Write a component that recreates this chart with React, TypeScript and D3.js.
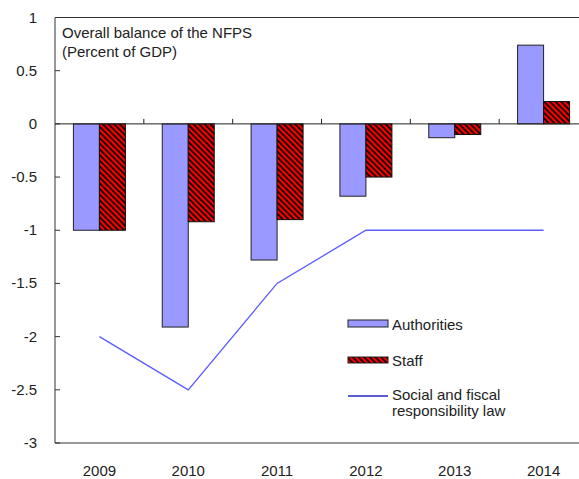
import React from "react";
import * as d3 from "d3";

const categories = ["2009", "2010", "2011", "2012", "2013", "2014"];
const authorities = [-1.0, -1.91, -1.28, -0.68, -0.13, 0.74];
const staff = [-1.0, -0.92, -0.9, -0.5, -0.1, 0.21];
const lawLine = [-2, -2.5, -1.5, -1, -1, -1];
const yTicks = [1, 0.5, 0, -0.5, -1, -1.5, -2, -2.5, -3];

export default function App() {
  const W = 579, H = 479;
  const left = 55, right = 588, top = 17.5, bottom = 443;
  const x = d3.scaleBand().domain(categories).range([left, right]).paddingInner(0).paddingOuter(0);
  const y = d3.scaleLinear().domain([-3, 1]).range([bottom, top]);
  const bw = 26;
  const font = "'Liberation Sans', Arial, sans-serif";
  const line = d3.line<number>()
    .x((_, i) => x(categories[i])! + x.bandwidth() / 2)
    .y((d) => y(d));
  return (
    <svg width={W} height={H} style={{ position: "absolute", left: 0, top: 0 }} fontFamily={font}>
      <defs>
        <pattern id="hatch" patternUnits="userSpaceOnUse" width="4" height="4" patternTransform="rotate(-45)">
          <rect width="4" height="4" fill="#ff0000" />
          <rect width="1.7" height="4" fill="#000" />
        </pattern>
      </defs>
      <rect width={W} height={H} fill="#fff" />
      {/* frame */}
      <line x1={left} x2={right} y1={top} y2={top} stroke="#333" strokeWidth={1} />
      <line x1={left} x2={left} y1={top} y2={bottom} stroke="#333" strokeWidth={1} />
      <line x1={left} x2={right} y1={bottom} y2={bottom} stroke="#333" strokeWidth={1} />
      {/* y ticks */}
      {yTicks.map((t) => (
        <g key={t}>
          <line x1={left} x2={left + 5} y1={y(t)} y2={y(t)} stroke="#333" />
          <text x={37} y={y(t) + 5} textAnchor="end" fontSize={15} fill="#222">{t}</text>
        </g>
      ))}
      {/* bars */}
      {categories.map((c, i) => {
        const cx = x(c)! + x.bandwidth() / 2;
        const a = authorities[i], s = staff[i];
        return (
          <g key={c}>
            <rect x={cx - bw} y={Math.min(y(a), y(0))} width={bw} height={Math.abs(y(a) - y(0))}
              fill="#9999ff" stroke="#222" strokeWidth={1} />
            <rect x={cx} y={Math.min(y(s), y(0))} width={bw} height={Math.abs(y(s) - y(0))}
              fill="url(#hatch)" stroke="#111" strokeWidth={1} />
          </g>
        );
      })}
      {/* zero line with category ticks */}
      <line x1={left} x2={right} y1={y(0)} y2={y(0)} stroke="#222" strokeWidth={1} />
      {categories.slice(1).map((c) => (
        <line key={c} x1={x(c)!} x2={x(c)!} y1={y(0)} y2={y(0) - 5} stroke="#222" />
      ))}
      {/* law line */}
      <path d={line(lawLine)!} fill="none" stroke="#5a5aff" strokeWidth={1.3} />
      {/* x labels */}
      {categories.map((c) => (
        <text key={c} x={x(c)! + x.bandwidth() / 2} y={476} textAnchor="middle" fontSize={15} fill="#222">{c}</text>
      ))}
      {/* title */}
      <text x={62} y={38} fontSize={15} fill="#222">Overall balance of the NFPS</text>
      <text x={62} y={57} fontSize={15} fill="#222">(Percent of GDP)</text>
      {/* legend */}
      <rect x={348} y={320} width={40} height={7} fill="#9999ff" stroke="#222" />
      <text x={392} y={330} fontSize={15} fill="#222">Authorities</text>
      <rect x={348} y={357} width={40} height={6} fill="url(#hatch)" stroke="#222" />
      <text x={392} y={366} fontSize={15} fill="#222">Staff</text>
      <line x1={348} x2={388} y1={396} y2={396} stroke="#2525c8" strokeWidth={1.3} />
      <text x={392} y={400} fontSize={15} fill="#222">Social and fiscal</text>
      <text x={392} y={416} fontSize={15} fill="#222">responsibility law</text>
    </svg>
  );
}
